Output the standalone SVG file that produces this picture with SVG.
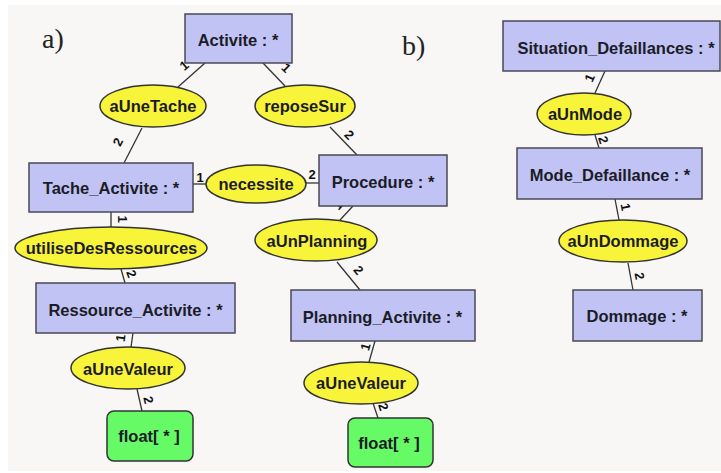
<svg xmlns="http://www.w3.org/2000/svg" width="721" height="473" viewBox="0 0 721 473">
<style>
.bg{fill:#f8f7f6}
.cls rect{fill:#c0c3f3;stroke:#4a4a55;stroke-width:1.5}
.rel ellipse{fill:#f8f43a;stroke:#333;stroke-width:1.5}
.val rect{fill:#66fa66;stroke:#333;stroke-width:1.5}
text{font-family:"Liberation Sans",Arial,sans-serif;font-weight:bold;font-size:16.5px;fill:#1c1c28;text-anchor:middle}
.lab{font-family:"Liberation Serif","Times New Roman",serif;font-weight:normal;font-size:28px;fill:#222;text-anchor:start}
#connectors line{stroke:#333;stroke-width:1.3}
#connectors text{font-size:13px;fill:#111}
</style>
<rect width="721" height="473" fill="#ffffff"/>
<rect class="bg" x="8" y="5" width="713" height="466"/>
<text class="lab" x="42" y="48">a)</text>
<text class="lab" x="402" y="55">b)</text>

<g id="connectors">
<line x1="205" y1="63" x2="178" y2="87"/>
<text transform="translate(187,69) rotate(-40)">1</text>
<line x1="263" y1="63" x2="285" y2="86"/>
<text transform="translate(283,71) rotate(45)">1</text>
<line x1="142" y1="128" x2="124" y2="163"/>
<text transform="translate(122,144) rotate(-63)">2</text>
<line x1="330" y1="127" x2="357" y2="155"/>
<text transform="translate(346,138) rotate(45)">2</text>
<line x1="193" y1="184" x2="206" y2="184"/>
<text x="200" y="182">1</text>
<line x1="305" y1="183" x2="319" y2="183"/>
<text x="312" y="179">2</text>
<line x1="353" y1="206" x2="340" y2="220"/>
<text transform="translate(341,208) rotate(-47)">1</text>
<line x1="337" y1="262" x2="360" y2="290"/>
<text transform="translate(355,273) rotate(50)">2</text>
<line x1="111" y1="212" x2="111" y2="227"/>
<text transform="translate(122,219) rotate(90) translate(0,4)">1</text>
<line x1="121" y1="269" x2="125" y2="283"/>
<text transform="translate(131,274) rotate(70) translate(0,4)">2</text>
<line x1="133" y1="333" x2="131" y2="347"/>
<text transform="translate(121,338) rotate(-82) translate(0,4)">1</text>
<line x1="137" y1="389" x2="142" y2="411"/>
<text transform="translate(148,400) rotate(77) translate(0,4)">2</text>
<line x1="375" y1="341" x2="369" y2="362"/>
<text transform="translate(366,347) rotate(-74) translate(0,4)">1</text>
<line x1="373" y1="403" x2="378" y2="418"/>
<text transform="translate(383,407) rotate(72) translate(0,4)">2</text>
<line x1="605" y1="71" x2="595" y2="93"/>
<text transform="translate(590,78) rotate(-66) translate(0,4)">1</text>
<line x1="595" y1="135" x2="599" y2="148"/>
<text transform="translate(603,140) rotate(73) translate(0,4)">2</text>
<line x1="615" y1="199" x2="619" y2="220"/>
<text transform="translate(625,207) rotate(79) translate(0,4)">1</text>
<line x1="628" y1="263" x2="633" y2="290"/>
<text transform="translate(639,276) rotate(80) translate(0,4)">2</text>
</g>

<g id="activite" class="cls"><rect x="185" y="14" width="107" height="49"/><text x="238" y="46">Activite : *</text></g>
<g id="aUneTache" class="rel"><ellipse cx="153" cy="106" rx="53" ry="21"/><text x="153" y="112">aUneTache</text></g>
<g id="reposeSur" class="rel"><ellipse cx="305" cy="106" rx="50" ry="21"/><text x="305" y="112">reposeSur</text></g>
<g id="tache_activite" class="cls"><rect x="29" y="163" width="164" height="49"/><text x="111" y="194">Tache_Activite : *</text></g>
<g id="necessite" class="rel"><ellipse cx="256" cy="184" rx="50" ry="19"/><text x="256" y="190">necessite</text></g>
<g id="procedure" class="cls"><rect x="319" y="155" width="128" height="51"/><text x="383" y="188">Procedure : *</text></g>
<g id="utiliseDesRessources" class="rel"><ellipse cx="111" cy="248" rx="96" ry="21"/><text x="111.5" y="254">utiliseDesRessources</text></g>
<g id="aUnPlanning" class="rel"><ellipse cx="316" cy="240" rx="61" ry="21"/><text x="317" y="247">aUnPlanning</text></g>
<g id="ressource_activite" class="cls"><rect x="36" y="283" width="199" height="50"/><text x="135.5" y="316">Ressource_Activite : *</text></g>
<g id="planning_activite" class="cls"><rect x="291" y="290" width="184" height="51"/><text x="382.5" y="323">Planning_Activite : *</text></g>
<g id="aUneValeur1" class="rel"><ellipse cx="128" cy="368" rx="57" ry="21"/><text x="128" y="375">aUneValeur</text></g>
<g id="aUneValeur2" class="rel"><ellipse cx="361" cy="383" rx="57" ry="21"/><text x="361" y="389">aUneValeur</text></g>
<g id="float1" class="val"><rect x="107" y="411" width="86" height="50" rx="7"/><text x="149" y="442">float[ * ]</text></g>
<g id="float2" class="val"><rect x="348" y="418" width="85" height="49" rx="7"/><text x="389" y="449">float[ * ]</text></g>
<g id="situation_defaillances" class="cls"><rect x="503" y="21" width="217" height="50"/><text x="616" y="54">Situation_Defaillances : *</text></g>
<g id="aUnMode" class="rel"><ellipse cx="584" cy="114" rx="47" ry="21"/><text x="585" y="120">aUnMode</text></g>
<g id="mode_defaillance" class="cls"><rect x="517" y="148" width="185" height="51"/><text x="610" y="181">Mode_Defaillance : *</text></g>
<g id="aUnDommage" class="rel"><ellipse cx="623" cy="241" rx="64" ry="21"/><text x="623" y="247">aUnDommage</text></g>
<g id="dommage" class="cls"><rect x="573" y="290" width="129" height="51"/><text x="637" y="322">Dommage : *</text></g>
</svg>
